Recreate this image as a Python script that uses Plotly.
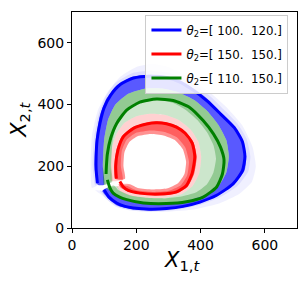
import plotly.graph_objects as go

# ---- data ----
series_names = ["<i>θ</i><sub>2</sub>=[ 100.&nbsp; 120.]",
                "<i>θ</i><sub>2</sub>=[ 150.&nbsp; 150.]",
                "<i>θ</i><sub>2</sub>=[ 110.&nbsp; 150.]"]
series_colors = ["blue", "red", "green"]

# main (thick) trajectories
blue_x = [100, 115, 139, 165, 191, 242, 294, 346, 398, 450, 501, 530, 538, 530, 505, 462, 420, 378, 336, 294, 242, 191, 150, 120, 100, 87, 78, 75, 75, 79]
blue_y = [124, 100, 81, 70, 65, 61, 63, 70, 84, 106, 143, 185, 232, 280, 325, 370, 412, 446, 473, 488, 492, 486, 465, 430, 390, 340, 285, 230, 190, 145]

red_x = [149, 160, 175, 211, 274, 325, 356, 374, 382, 374, 352, 325, 294, 263, 232, 191, 160, 143, 136, 138]
red_y = [151, 133, 122, 113, 110, 117, 138, 178, 232, 275, 307, 327, 338, 341, 337, 323, 296, 253, 200, 160]

green_x = [110, 118, 128, 148, 170, 222, 294, 356, 408, 450, 468, 473, 462, 440, 408, 367, 315, 263, 211, 170, 139, 120, 110, 107, 106]
green_y = [156, 130, 113, 100, 92, 81, 79, 85, 100, 133, 175, 221, 262, 305, 348, 390, 413, 418, 408, 382, 339, 290, 240, 200, 175]

# envelopes of the many faint sample trajectories (open rings, clockwise from lower left)
haze_x = [62, 58, 62, 80, 110, 150, 200, 250, 300, 350, 420, 480, 530, 562, 572, 560, 520, 460, 380, 300, 220, 160, 120, 95, 72]
haze_y = [130, 200, 300, 380, 440, 490, 522, 532, 522, 497, 447, 392, 332, 262, 200, 150, 110, 80, 60, 53, 54, 62, 82, 105, 122]

haze2_x = [72, 64, 68, 82, 103, 135, 190, 242, 296, 342, 388, 430, 472, 515, 543, 555, 548, 515, 458, 402, 346, 294, 240, 188, 135, 102, 86]
haze2_y = [138, 200, 287, 366, 424, 470, 503, 510, 504, 488, 460, 427, 384, 338, 290, 232, 182, 136, 98, 76, 62, 55, 52, 56, 70, 100, 122]

bout_x = [80, 70, 74, 86, 106, 137, 190, 242, 294, 338, 380, 421, 462, 503, 530, 542, 537, 505, 452, 399, 346, 294, 242, 190, 138, 106, 94]
bout_y = [140, 200, 285, 362, 417, 460, 490, 497, 492, 478, 451, 419, 376, 332, 288, 232, 186, 142, 104, 82, 67, 60, 57, 60, 74, 104, 120]

gout_x = [100, 96, 100, 112, 135, 175, 230, 280, 330, 380, 420, 455, 480, 488, 480, 455, 410, 356, 294, 222, 170, 128, 108]
gout_y = [140, 200, 285, 350, 400, 435, 452, 452, 440, 415, 380, 335, 285, 232, 180, 135, 105, 88, 80, 82, 92, 113, 130]

gin_x = [125, 122, 126, 138, 158, 190, 235, 275, 315, 355, 390, 420, 440, 448, 440, 420, 385, 340, 290, 230, 180, 145, 130]
gin_y = [150, 200, 280, 335, 375, 402, 415, 415, 405, 382, 350, 310, 268, 225, 180, 142, 115, 102, 96, 98, 106, 122, 138]

rout_x = [122, 120, 125, 138, 163, 200, 245, 290, 332, 368, 393, 402, 396, 375, 342, 290, 230, 180, 150, 140]
rout_y = [152, 200, 262, 304, 340, 362, 370, 366, 350, 320, 280, 230, 178, 136, 110, 98, 98, 105, 120, 135]

rmid_x = [134, 131, 138, 155, 188, 232, 263, 294, 327, 355, 378, 388, 380, 360, 327, 274, 211, 175, 153, 145]
rmid_y = [160, 200, 253, 298, 326, 341, 346, 342, 331, 310, 277, 232, 176, 134, 113, 106, 109, 118, 130, 142]

hole_x = [165, 160, 163, 178, 205, 245, 285, 320, 345, 355, 350, 330, 295, 250, 205, 180]
hole_y = [160, 200, 245, 278, 298, 305, 300, 285, 255, 215, 175, 145, 128, 125, 130, 142]

hole2_x = [158, 152, 155, 170, 198, 245, 288, 326, 352, 364, 358, 338, 298, 250, 200, 172]
hole2_y = [155, 200, 250, 286, 308, 316, 311, 294, 262, 215, 170, 138, 120, 117, 122, 136]

x_ticks = [0, 200, 400, 600]
y_ticks = [0, 200, 400, 600]


def strip(ox, oy, ix, iy):
    # C-shaped band: outer curve forward, inner curve backward (open at lower left)
    xs = list(ox) + list(reversed(ix)) + [ox[0]]
    ys = list(oy) + list(reversed(iy)) + [oy[0]]
    return xs, ys


fig = go.Figure()

def band(ox, oy, ix, iy, color):
    xs, ys = strip(ox, oy, ix, iy)
    fig.add_trace(go.Scatter(x=xs, y=ys, mode="lines", fill="toself",
                             fillcolor=color, line=dict(width=0, shape="spline", smoothing=0.5),
                             hoverinfo="skip", showlegend=False))

# blue samples
band(haze_x, haze_y, bout_x, bout_y, "rgba(0,0,255,0.06)")
band(haze2_x, haze2_y, bout_x, bout_y, "rgba(0,0,255,0.08)")
band(bout_x, bout_y, gout_x, gout_y, "rgba(0,0,255,0.65)")
# red samples
band(rout_x, rout_y, hole_x, hole_y, "rgba(255,0,0,0.18)")
band(rmid_x, rmid_y, hole_x, hole_y, "rgba(255,0,0,0.3)")
band(rmid_x, rmid_y, hole2_x, hole2_y, "rgba(255,0,0,0.35)")
# green samples
band(gout_x, gout_y, rout_x, rout_y, "rgba(0,128,0,0.2)")
band(gout_x, gout_y, gin_x, gin_y, "rgba(0,128,0,0.28)")

for name, col, xs, ys in zip(series_names, series_colors,
                             [blue_x, red_x, green_x], [blue_y, red_y, green_y]):
    fig.add_trace(go.Scatter(x=xs, y=ys, mode="lines", name=name, legendgroup=name,
                             line=dict(color=col, width=3, shape="spline", smoothing=0.6)))

axis_common = dict(range=[0, 700], showgrid=False, zeroline=False, automargin=False,
                   showline=True, linecolor="black", linewidth=1, mirror=True,
                   ticks="outside", ticklen=4, tickcolor="black",
                   tickfont=dict(family="DejaVu Sans", size=14, color="black"))

fig.update_xaxes(**axis_common, tickvals=x_ticks)
fig.update_yaxes(**axis_common, tickvals=y_ticks)

fig.add_annotation(text="<i>X</i><sub>1,<i>t</i></sub>", xref="paper", yref="paper",
                   x=0.49, y=-0.155, xanchor="center", yanchor="middle", showarrow=False,
                   font=dict(family="DejaVu Sans", size=21, color="black"))
fig.add_annotation(text="<i>X</i><sub>2,<i>t</i></sub>", xref="paper", yref="paper",
                   x=-0.232, y=0.5, xanchor="center", yanchor="middle", showarrow=False,
                   textangle=-90, font=dict(family="DejaVu Sans", size=21, color="black"))

fig.update_layout(width=306, height=285,
                  margin=dict(l=64, r=17, t=4, b=65),
                  paper_bgcolor="white", plot_bgcolor="white",
                  legend=dict(x=0.962, y=0.988, xanchor="right", yanchor="top",
                              bgcolor="rgba(255,255,255,0.85)", bordercolor="#cccccc",
                              borderwidth=1, font=dict(family="DejaVu Sans", size=11.8, color="black"),
                              itemwidth=30, tracegroupgap=5))

fig.write_html("out.html")
